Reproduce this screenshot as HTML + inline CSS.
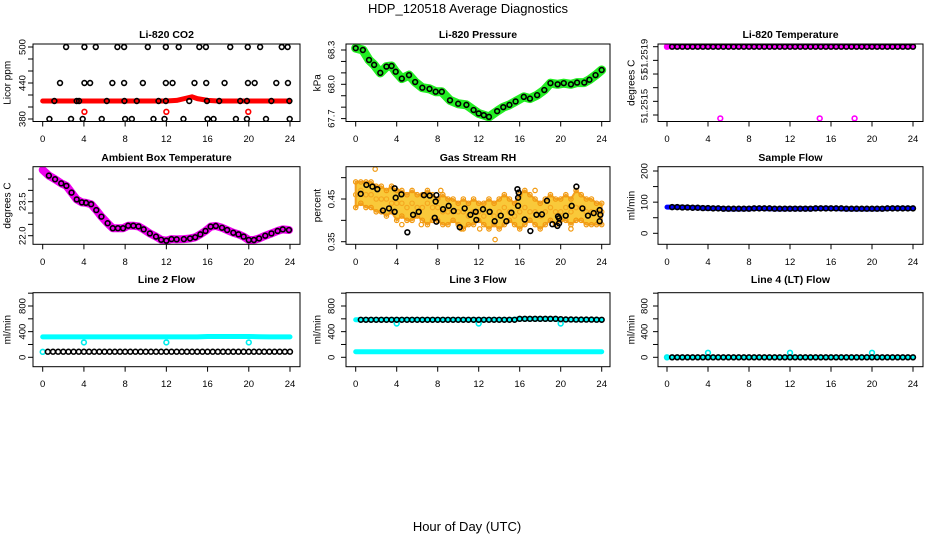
<!DOCTYPE html>
<html><head><meta charset="utf-8"><style>
html,body{margin:0;padding:0;background:#fff;}
svg{display:block;font-family:"Liberation Sans",Arial,sans-serif;}
</style></head><body>
<svg id="chart" width="936" height="540" viewBox="0 0 936 540">
<text x="468" y="13" text-anchor="middle" font-size="13">HDP_120518  Average Diagnostics</text>
<text x="467" y="531" text-anchor="middle" font-size="13">Hour of Day (UTC)</text>
</svg>
<script>
// ---- CO2 ----
const co2BlackHours=[2.27,4.05,5.15,7.25,7.9,10.2,11.95,13.2,15.2,15.84,18.2,19.9,21.1,23.2,23.77,
1.68,4.05,4.6,6.76,7.9,9.72,11.95,12.6,14.73,15.87,17.65,19.92,20.57,22.67,23.8,
1.13,3.3,3.53,6.22,7.93,9.13,11.24,11.95,14.22,15.94,17.13,19.17,19.82,22.19,23.94,
0.65,2.75,3.88,5.73,8.0,8.65,10.75,11.82,13.66,16,16.58,18.75,19.82,21.67,23.97];
const co2BlackVals=[500,500,500,500,500,500,500,500,500,500,500,500,500,500,500,
440,440,440,440,440,440,440,440,440,440,440,440,440,440,440,
410,410,410,410,410,410,410,410,410,410,410,410,410,410,410,
380,380,380,380,380,380,380,380,380,380,380,380,380,380,380];
const co2RedHours=[0,1,2,3,4,5,6,7,8,9,10,11,12,13,14,14.5,15,16,17,18,19,20,21,22,23,24];
const co2RedVals=[410,410,410,410,410,410,410,410,410,410,410,410,410,411,415,417,414,411,410,410,410,410,410,410,410,410];
const co2OutHours=[4.05,12,19.95];
const co2OutVals=[392,392,392];
// ---- Pressure ----
const presHours=[0,0.7,1.3,1.8,2.4,3,3.5,3.9,4.5,5.2,5.8,6.5,7.2,7.8,8.4,9.2,10,10.8,11.5,12,12.5,13,13.8,14.4,15,15.6,16.4,17,17.7,18.4,19,19.7,20.3,21,21.6,22.3,22.8,23.4,24];
const presVals=[68.316,68.30,68.213,68.17,68.10,68.155,68.16,68.11,68.05,68.08,68.02,67.97,67.96,67.935,67.935,67.86,67.83,67.82,67.775,67.745,67.73,67.715,67.765,67.80,67.82,67.85,67.89,67.875,67.905,67.95,68.01,68.0,68.01,68.0,68.015,68.015,68.04,68.08,68.125];
// ---- Li-820 Temperature ----
const tempHours=[0.5,1,1.5,2,2.5,3,3.5,4,4.5,5,5.5,6,6.5,7,7.5,8,8.5,9,9.5,10,10.5,11,11.5,12,12.5,13,13.5,14,14.5,15,15.5,16,16.5,17,17.5,18,18.5,19,19.5,20,20.5,21,21.5,22,22.5,23,23.5,24];
const tempVals=[51.2519,51.2519,51.2519,51.2519,51.2519,51.2519,51.2519,51.2519,51.2519,51.2519,51.2519,51.2519,51.2519,51.2519,51.2519,51.2519,51.2519,51.2519,51.2519,51.2519,51.2519,51.2519,51.2519,51.2519,51.2519,51.2519,51.2519,51.2519,51.2519,51.2519,51.2519,51.2519,51.2519,51.2519,51.2519,51.2519,51.2519,51.2519,51.2519,51.2519,51.2519,51.2519,51.2519,51.2519,51.2519,51.2519,51.2519,51.2519];
const tempBandHours=[0,24];
const tempBandVals=[51.2519,51.2519];
const tempOutHours=[0,5.2,14.9,18.3];
const tempOutVals=[51.2519,51.25148,51.25148,51.25148];
// ---- Ambient box temperature ----
const ambHours=[0,0.6,1.2,1.8,2.3,2.8,3.3,3.8,4.2,4.7,5.2,5.7,6.3,6.8,7.3,7.8,8.3,8.8,9.3,9.8,10.4,11,11.5,12,12.5,13,13.7,14.3,14.8,15.3,15.8,16.3,16.8,17.4,17.9,18.5,19,19.5,20,20.5,21,21.6,22.2,22.8,23.3,23.9];
const ambVals=[24.9,24.65,24.49,24.31,24.2,23.9,23.6,23.47,23.45,23.39,23.13,22.84,22.55,22.33,22.33,22.33,22.44,22.44,22.41,22.28,22.1,21.96,21.82,21.78,21.85,21.84,21.85,21.88,21.93,22.06,22.21,22.4,22.43,22.35,22.25,22.13,22.06,21.96,21.81,21.81,21.88,22.0,22.1,22.21,22.28,22.25];
// ---- Gas stream RH ----
const rhBandHours=[0,0.5,1,1.5,2,2.5,3,3.5,4,4.5,5,5.5,6,6.5,7,7.5,8,8.5,9,9.5,10,10.5,11,11.5,12,12.5,13,13.5,14,14.5,15,15.5,16,16.5,17,17.5,18,18.5,19,19.5,20,20.5,21,21.5,22,22.5,23,23.5,24];
const rhHi=[.49,.49,.49,.49,.48,.48,.47,.48,.47,.47,.46,.47,.46,.46,.47,.46,.45,.46,.45,.45,.44,.45,.44,.45,.44,.44,.45,.44,.45,.46,.45,.44,.46,.47,.46,.45,.44,.45,.46,.45,.45,.46,.45,.47,.46,.45,.45,.44,.44];
const rhMid=[.46,.47,.46,.46,.45,.45,.45,.44,.44,.44,.43,.44,.43,.43,.44,.43,.43,.42,.42,.42,.42,.42,.41,.42,.42,.41,.42,.41,.42,.43,.42,.41,.42,.43,.42,.42,.41,.42,.43,.42,.42,.43,.42,.43,.43,.42,.42,.42,.42];
const rhLo=[.43,.44,.43,.43,.42,.42,.41,.42,.40,.41,.40,.40,.41,.40,.39,.40,.40,.39,.39,.40,.39,.38,.39,.39,.40,.39,.38,.39,.38,.39,.40,.39,.38,.39,.40,.39,.38,.39,.40,.39,.40,.40,.39,.40,.40,.39,.39,.39,.39];
const rhOutHours=[1.9,4.5,8.3,12.1,13.6,17.5,21,6.4,10.3];
const rhOutVals=[.52,.39,.47,.38,.355,.47,.38,.39,.38];
const rhBlackHours=[0.49,1.04,1.63,2.11,2.66,3.25,3.8,3.8,3.9,4.46,5.04,5.6,6.15,6.66,7.22,7.71,7.8,7.87,7.87,8.52,9.07,9.56,10.15,10.63,11.19,11.71,11.77,12.42,13.07,13.56,14.15,14.7,15.19,15.78,15.84,15.84,15.9,16.49,17.04,17.63,18.17,18.66,19.19,19.68,19.74,19.84,19.84,20.49,21.07,21.53,22.12,22.66,23.22,23.8,23.8,23.87];
const rhBlackVals=[.462,.483,.479,.473,.423,.428,.420,.475,.453,.461,.372,.413,.420,.459,.458,.406,.444,.459,.397,.426,.434,.422,.384,.428,.413,.420,.401,.426,.420,.398,.411,.398,.418,.473,.434,.453,.465,.402,.375,.413,.414,.446,.391,.387,.409,.393,.405,.411,.434,.479,.428,.411,.417,.424,.398,.413];
// ---- Flows ----
const flowHours=[0,1,2,3,4,5,6,7,8,9,10,11,12,13,14,15,16,17,18,19,20,21,22,23,24];
const flowHalfHours=[0.5,1,1.5,2,2.5,3,3.5,4,4.5,5,5.5,6,6.5,7,7.5,8,8.5,9,9.5,10,10.5,11,11.5,12,12.5,13,13.5,14,14.5,15,15.5,16,16.5,17,17.5,18,18.5,19,19.5,20,20.5,21,21.5,22,22.5,23,23.5,24];
const sampleBlue=[84,84,83,82,80,80,78,78,79,80,79,78,79,79,79,80,80,79,78,78,78,79,80,80,80];
const sampleBlack=[84,84,83,83,82,82,81,81,80,80,79,79,79,79,79,79,80,80,80,80,79,79,79,79,79,79,79,79,80,80,80,80,80,80,79,79,79,79,79,79,79,79,80,80,80,80,80,80];
const line2Cyan=[319,318,318,318,319,318,318,319,318,318,318,318,319,318,318,318,324,325,325,324,324,320,319,318,318];
const line2Black=[87,87,87,87,87,87,87,87,87,87,87,87,87,87,87,87,87,87,87,87,87,87,87,87,87,87,87,87,87,87,87,87,87,87,87,87,87,87,87,87,87,87,87,87,87,87,87,87];
const line2OutHours=[0,4,12,20];
const line2OutVals=[85,232,232,232];
const line3CyanHi=[585,585,585,585,585,585,585,585,585,585,585,585,585,585,585,585,600,600,600,600,590,588,588,588,585];
const line3CyanLo=[87,87,87,87,87,87,87,87,87,87,87,87,87,87,87,87,87,87,87,87,87,87,87,87,87];
const line3Black=[585,585,585,585,585,585,585,585,585,585,585,585,585,585,585,585,585,585,585,585,585,585,585,585,585,585,585,585,585,585,585,600,600,600,600,600,600,600,600,595,590,590,588,588,588,588,586,585];
const line3OutHours=[4,12,20];
const line3OutVals=[527,527,527];
const line4Cyan=[0,0,0,0,0,0,0,0,0,0,0,0,0,0,0,0,0,0,0,0,0,0,0,0,0];
const line4Black=[0,0,0,0,0,0,0,0,0,0,0,0,0,0,0,0,0,0,0,0,0,0,0,0,0,0,0,0,0,0,0,0,0,0,0,0,0,0,0,0,0,0,0,0,0,0,0,0];
const line4OutHours=[0,4,12,20];
const line4OutVals=[0,70,70,70];
const hourTicks=[0,4,8,12,16,20,24];

const NS='http://www.w3.org/2000/svg';
const svg=document.getElementById('chart');
function mk(tag,attrs,parent){const e=document.createElementNS(NS,tag);for(const k in attrs)e.setAttribute(k,attrs[k]);(parent||svg).appendChild(e);return e;}
function lin(v0,p0,v1,p1){return v=>p0+(v-v0)*(p1-p0)/(v1-v0);}

const colX=[{l:33,r:300,x0:42.7,x24:290,lab:23,yt:8},{l:346,r:610,x0:355.7,x24:601.7,lab:332,yt:318},{l:658,r:923,x0:667,x24:913,lab:645,yt:632}];
const rowY=[{t:44,b:121.5,title:34,xl:139},{t:166.7,b:244.3,title:157,xl:262},{t:292.7,b:366.7,title:279,xl:384}];

function panel(cfg){
  const c=colX[cfg.col],r=rowY[cfg.row];
  const g=mk('g',{});
  
  
  const xs=lin(0,c.x0,24,c.x24),ys=lin(cfg.yv[0],cfg.yp[0],cfg.yv[1],cfg.yp[1]);
  const t=mk('text',{x:(c.l+c.r)/2,y:r.title+4,'text-anchor':'middle','font-size':'10.5','font-weight':'bold'},g);
  t.textContent=cfg.title;
  
  
  const yl=mk('text',{x:c.yt,y:(r.t+r.b)/2,'text-anchor':'middle','font-size':'10',transform:`rotate(-90 ${c.yt} ${(r.t+r.b)/2})`,'dominant-baseline':'middle'},g);
  yl.textContent=cfg.ylab;
  
  
  hourTicks.forEach(h=>{
    const x=xs(h);
    mk('line',{x1:x,y1:r.b,x2:x,y2:r.b+5,stroke:'#000','stroke-width':1},g);
    const tl=mk('text',{x:x,y:r.xl+3,'text-anchor':'middle','font-size':'9.5'},g);
    tl.textContent=h;
    
    
  });
  cfg.ticks.forEach(v=>{
    const y=ys(v);
    mk('line',{x1:c.l-5,y1:y,x2:c.l,y2:y,stroke:'#000','stroke-width':1},g);
  });
  cfg.labels.forEach(([v,txt,yy])=>{
    const y=yy!==undefined?yy:ys(v);
    const tl=mk('text',{x:c.lab,y:y,'text-anchor':'middle','font-size':'9.5','dominant-baseline':'middle',transform:`rotate(-90 ${c.lab} ${y})`},g);
    tl.textContent=txt;
    
    
  });
  const clip='clip'+cfg.name;
  const cp=mk('clipPath',{id:clip},g);mk('rect',{x:c.l,y:r.t,width:c.r-c.l,height:r.b-r.t},cp);
  const plot=mk('g',{'clip-path':`url(#${clip})`},g);
  cfg.draw(plot,xs,ys);
  mk('rect',{x:c.l,y:r.t,width:c.r-c.l,height:r.b-r.t,fill:'none',stroke:'#000','stroke-width':1},g);
}
function band(p,xs,ys,hours,vals,color,w,name){
  const pl=mk('polyline',{points:hours.map((h,i)=>xs(h)+','+ys(vals[i])).join(' '),fill:'none',stroke:color,'stroke-width':w,'stroke-linejoin':'round','stroke-linecap':'round'},p);
  
  
}
function pts(p,xs,ys,hours,vals,color,r,sw,name){
  hours.forEach((h,i)=>{
    const c=mk('circle',{cx:xs(h),cy:ys(vals[i]),r:r,fill:'none',stroke:color,'stroke-width':sw},p);
    
    
  });
}
const BR=2.4,BW=1.6;
panel({name:'co2-panel',col:0,row:0,title:'Li-820 CO2',ylab:'Licor ppm',yv:[380,500],yp:[119,47],ticks:[380,400,420,440,460,480,500],labels:[[380,'380'],[440,'440'],[500,'500']],
 draw:(p,xs,ys)=>{band(p,xs,ys,co2RedHours,co2RedVals,'#ff0000',5,'co2-red-band');pts(p,xs,ys,co2OutHours,co2OutVals,'#ff0000',BR,BW,'co2-red-point');pts(p,xs,ys,co2BlackHours,co2BlackVals,'#000',BR,BW,'co2-avg-point');}});
panel({name:'pressure-panel',col:1,row:0,title:'Li-820 Pressure',ylab:'kPa',yv:[68.0,68.3],yp:[84.3,50],ticks:[67.7,67.8,67.9,68.0,68.1,68.2,68.3],labels:[[67.7,'67.7'],[68.0,'68.0'],[68.3,'68.3']],
 draw:(p,xs,ys)=>{band(p,xs,ys,presHours,presVals,'#22ee22',9,'pressure-green-band');pts(p,xs,ys,presHours,presVals,'#000',BR,BW,'pressure-avg-point');}});
panel({name:'li820-temp-panel',col:2,row:0,title:'Li-820 Temperature',ylab:'degrees C',yv:[51.2515,51.2519],yp:[115,46.7],ticks:[51.2515,51.25158,51.25166,51.25174,51.25182,51.2519],labels:[[51.2515,'51.2515',106],[51.2517,'51',75],[51.2519,'51.2519',56]],
 draw:(p,xs,ys)=>{band(p,xs,ys,tempBandHours,tempBandVals,'#ff00ff',5,'temp-magenta-band');pts(p,xs,ys,tempOutHours,tempOutVals,'#ff00ff',BR,BW,'temp-magenta-point');pts(p,xs,ys,tempHours,tempVals,'#000',BR,BW,'temp-avg-point');}});
panel({name:'ambient-temp-panel',col:0,row:1,title:'Ambient Box Temperature',ylab:'degrees C',yv:[22.0,23.5],yp:[235.7,201.7],ticks:[22.0,22.5,23.0,23.5,24.0,24.5],labels:[[22.0,'22.0'],[23.5,'23.5']],
 draw:(p,xs,ys)=>{band(p,xs,ys,ambHours,ambVals,'#ee00ee',8,'ambient-magenta-band');pts(p,xs,ys,ambHours.slice(1),ambVals.slice(1),'#000',BR,BW,'ambient-avg-point');}});
panel({name:'rh-panel',col:1,row:1,title:'Gas Stream RH',ylab:'percent',yv:[0.35,0.45],yp:[241.7,199],ticks:[0.35,0.40,0.45,0.50],labels:[[0.35,'0.35'],[0.45,'0.45']],
 draw:(p,xs,ys)=>{
  const poly=mk('polygon',{points:rhBandHours.map((h,i)=>xs(h)+','+ys(rhHi[i])).concat(rhBandHours.slice().reverse().map((h,j)=>xs(h)+','+ys(rhLo[rhLo.length-1-j]))).join(' '),fill:'#f9c93a',stroke:'#f2a020','stroke-width':2},p);
  
  
  pts(p,xs,ys,rhBandHours,rhHi,'#f29a10',2.2,1.2,'rh-orange-point');
  pts(p,xs,ys,rhBandHours,rhMid,'#f5a820',2.2,1.2,'rh-orange-point');
  pts(p,xs,ys,rhBandHours,rhLo,'#f29a10',2.2,1.2,'rh-orange-point');
  pts(p,xs,ys,rhOutHours,rhOutVals,'#f29a10',2.2,1.2,'rh-orange-point');
  pts(p,xs,ys,rhBlackHours,rhBlackVals,'#000',BR,BW,'rh-avg-point');}});
panel({name:'sample-flow-panel',col:2,row:1,title:'Sample Flow',ylab:'ml/min',yv:[0,200],yp:[233.3,171],ticks:[0,50,100,150,200],labels:[[0,'0'],[100,'100'],[200,'200']],
 draw:(p,xs,ys)=>{band(p,xs,ys,flowHours,sampleBlue,'#0000ff',5,'sample-blue-band');pts(p,xs,ys,flowHalfHours,sampleBlack,'#000',BR,BW,'sample-avg-point');}});
const flowTicks=[0,200,400,600,800,1000],flowLabels=[[0,'0'],[400,'400'],[800,'800']];
panel({name:'line2-flow-panel',col:0,row:2,title:'Line 2 Flow',ylab:'ml/min',yv:[0,800],yp:[357.3,306],ticks:flowTicks,labels:flowLabels,
 draw:(p,xs,ys)=>{band(p,xs,ys,flowHours,line2Cyan,'#00ffff',5,'line2-cyan-band');pts(p,xs,ys,line2OutHours,line2OutVals,'#00eeee',BR,BW,'line2-cyan-point');pts(p,xs,ys,flowHalfHours,line2Black,'#000',BR,BW,'line2-avg-point');}});
panel({name:'line3-flow-panel',col:1,row:2,title:'Line 3 Flow',ylab:'ml/min',yv:[0,800],yp:[357.3,306],ticks:flowTicks,labels:flowLabels,
 draw:(p,xs,ys)=>{band(p,xs,ys,flowHours,line3CyanHi,'#00ffff',5,'line3-cyan-band');band(p,xs,ys,flowHours,line3CyanLo,'#00ffff',5,'line3-cyan-low-band');pts(p,xs,ys,line3OutHours,line3OutVals,'#00eeee',BR,BW,'line3-cyan-point');pts(p,xs,ys,flowHalfHours,line3Black,'#000',BR,BW,'line3-avg-point');}});
panel({name:'line4-flow-panel',col:2,row:2,title:'Line 4 (LT) Flow',ylab:'ml/min',yv:[0,800],yp:[357.3,306],ticks:flowTicks,labels:flowLabels,
 draw:(p,xs,ys)=>{band(p,xs,ys,flowHours,line4Cyan,'#00ffff',4,'line4-cyan-band');pts(p,xs,ys,line4OutHours,line4OutVals,'#00eeee',BR,BW,'line4-cyan-point');pts(p,xs,ys,flowHalfHours,line4Black,'#000',BR,BW,'line4-avg-point');}});
</script>
</body></html>
